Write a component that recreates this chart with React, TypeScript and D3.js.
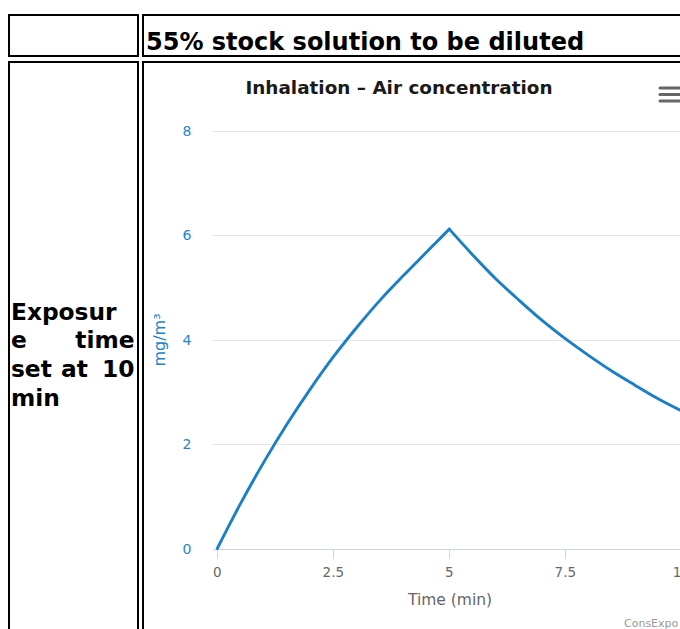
import React from "react";
import * as d3 from "d3";

const times = [0, 0.5, 1, 1.5, 2, 2.5, 3, 3.5, 4, 4.5, 5, 5.5, 6, 6.5, 7, 7.5, 8, 8.5, 9, 9.5, 10];
const airConc = [0, 0.86, 1.65, 2.38, 3.05, 3.67, 4.23, 4.75, 5.22, 5.67, 6.12, 5.63, 5.17, 4.76, 4.37, 4.02, 3.7, 3.4, 3.13, 2.87, 2.64];
const peakTime = 5;
const xTicks = [0, 2.5, 5, 7.5, 10];
const yTicks = [0, 2, 4, 6, 8];
const headerText = "55% stock solution to be diluted";
const chartTitle = "Inhalation \u2013 Air concentration";
const yTitle = "mg/m\u00b3";
const xTitle = "Time (min)";
const credit = "ConsExpo web";

export default function App() {
  const W = 680, H = 629;
  const plotLeft = 213;
  const x = d3.scaleLinear().domain([0, 10]).range([217.3, 681.3]);
  const y = d3.scaleLinear().domain([0, 8]).range([548.5, 131]);
  const data = times.map((t, i) => [t, airConc[i]] as [number, number]);
  const rise = data.filter(d => d[0] <= peakTime);
  const decay = data.filter(d => d[0] >= peakTime);
  const line = d3.line<[number, number]>().x(d => x(d[0])).y(d => y(d[1])).curve(d3.curveMonotoneX);
  const font = "'DejaVu Sans', Verdana, sans-serif";
  const blue = "#1f84cc";
  const lineColor = "#1a7fc6";
  return (
    <svg width={W} height={H} style={{ position: "absolute", left: 0, top: 0 }} fontFamily={font}>
      <rect x={0} y={0} width={W} height={H} fill="#fff" />
      {/* table cells */}
      <g fill="none" stroke="#000" strokeWidth={2}>
        <rect x={9} y={15} width={129} height={41} />
        <rect x={143} y={15} width={700} height={41} />
        <rect x={9} y={62} width={129} height={700} />
        <rect x={143} y={62} width={700} height={700} />
      </g>
      <text x={146} y={49.5} fontSize={24} fontWeight="bold" fill="#000">{headerText}</text>
      <g fontSize={23.3} fontWeight="bold" fill="#000">
        <text x={11} y={319.5}>Exposur</text>
        <text x={11} y={348.3}>e</text>
        <text x={134.5} y={348.3} textAnchor="end">time</text>
        <text x={11} y={377}>set</text>
        <text x={61} y={377}>at</text>
        <text x={134.5} y={377} textAnchor="end">10</text>
        <text x={11} y={405.8}>min</text>
      </g>
      {/* chart */}
      <text x={399} y={93.5} textAnchor="middle" fontSize={18.4} fontWeight="bold" fill="#1a1a1a">{chartTitle}</text>
      <g stroke="#666" strokeWidth={3} strokeLinecap="round">
        {[88, 94.5, 101].map(v => <line key={v} x1={660} x2={690} y1={v} y2={v} />)}
      </g>
      <g>
        {yTicks.map(t => (
          <line key={"g" + t} x1={plotLeft} x2={W + 10} y1={Math.round(y(t)) + 0.5} y2={Math.round(y(t)) + 0.5} stroke="#e6e6e6" strokeWidth={1} />
        ))}
        {yTicks.map(t => (
          <text key={"l" + t} x={191.5} y={y(t) + 5} textAnchor="end" fontSize={14} fill={blue}>{t}</text>
        ))}
      </g>
      <text transform={`translate(165,340) rotate(-90)`} textAnchor="middle" fontSize={16} fill={blue}>{yTitle}</text>
      <line x1={plotLeft} x2={W + 10} y1={549.5} y2={549.5} stroke="#ccd6eb" strokeWidth={1} />
      {xTicks.map(t => (
        <g key={"x" + t}>
          <line x1={Math.round(x(t)) + 0.5} x2={Math.round(x(t)) + 0.5} y1={549} y2={559} stroke="#ccd6eb" strokeWidth={1} />
          <text x={x(t)} y={577} textAnchor="middle" fontSize={13.5} fill="#666">{t}</text>
        </g>
      ))}
      <text x={450} y={605} textAnchor="middle" fontSize={15.5} fill="#666">{xTitle}</text>
      <path d={line(rise) || ""} fill="none" stroke={lineColor} strokeWidth={2.9} strokeLinejoin="round" strokeLinecap="round" />
      <path d={line(decay) || ""} fill="none" stroke={lineColor} strokeWidth={2.9} strokeLinejoin="round" strokeLinecap="round" />
      <text x={624} y={627} fontSize={11} fill="#999">{credit}</text>
    </svg>
  );
}
